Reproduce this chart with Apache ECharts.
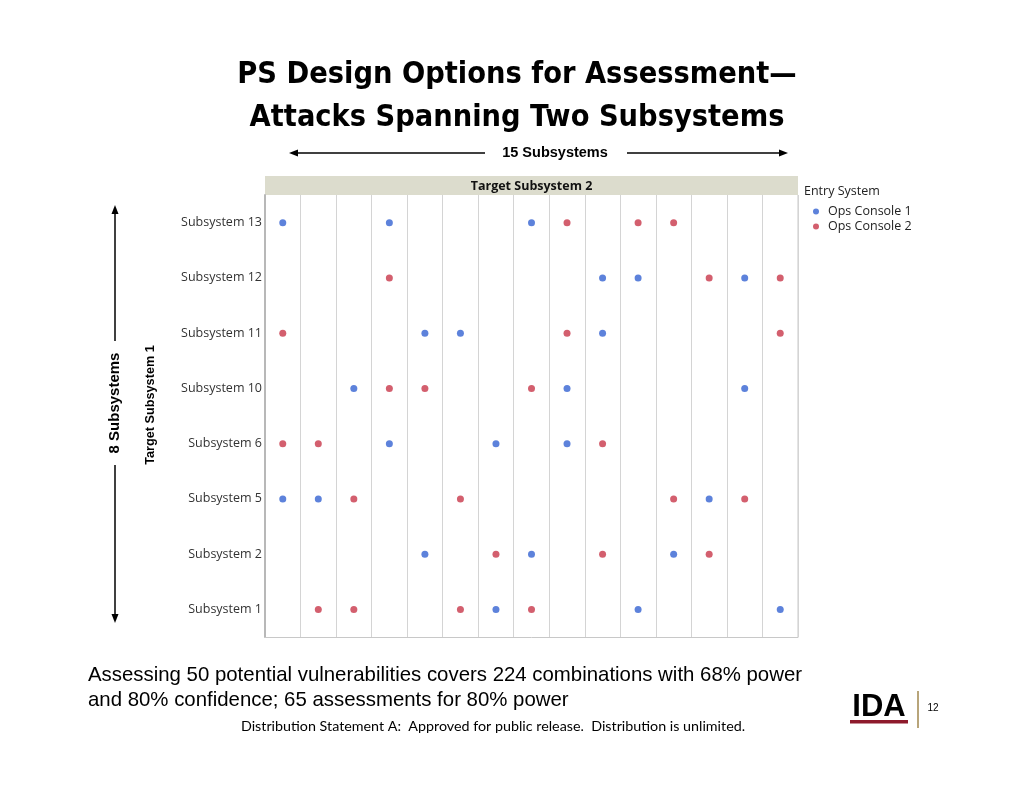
<!DOCTYPE html>
<html>
<head>
<meta charset="utf-8">
<script src="https://cdn.jsdelivr.net/npm/echarts@6/dist/echarts.min.js"></script>
<style>
html,body{margin:0;padding:0;background:#fff;}
#chart{width:1024px;height:791px;}
</style>
</head>
<body>
<div id="chart"></div>
<script>
// Columns: Target Subsystem 2 (15 subsystems, header labels illegible)
const columns = ['1','2','3','4','5','6','7','8','9','10','11','12','13','14','15'];
// Rows: Target Subsystem 1 (bottom to top)
const rows = ['Subsystem 1','Subsystem 2','Subsystem 5','Subsystem 6','Subsystem 10','Subsystem 11','Subsystem 12','Subsystem 13'];
const seriesNames = ['Ops Console 1','Ops Console 2'];
// [column, row]
const opsConsole1 = [
  ['1','Subsystem 13'],['4','Subsystem 13'],['8','Subsystem 13'],
  ['10','Subsystem 12'],['11','Subsystem 12'],['14','Subsystem 12'],
  ['5','Subsystem 11'],['6','Subsystem 11'],['10','Subsystem 11'],
  ['3','Subsystem 10'],['9','Subsystem 10'],['14','Subsystem 10'],
  ['4','Subsystem 6'],['7','Subsystem 6'],['9','Subsystem 6'],
  ['1','Subsystem 5'],['2','Subsystem 5'],['13','Subsystem 5'],
  ['5','Subsystem 2'],['8','Subsystem 2'],['12','Subsystem 2'],
  ['7','Subsystem 1'],['11','Subsystem 1'],['15','Subsystem 1']
];
const opsConsole2 = [
  ['9','Subsystem 13'],['11','Subsystem 13'],['12','Subsystem 13'],
  ['4','Subsystem 12'],['13','Subsystem 12'],['15','Subsystem 12'],
  ['1','Subsystem 11'],['9','Subsystem 11'],['15','Subsystem 11'],
  ['4','Subsystem 10'],['5','Subsystem 10'],['8','Subsystem 10'],
  ['1','Subsystem 6'],['2','Subsystem 6'],['10','Subsystem 6'],
  ['3','Subsystem 5'],['6','Subsystem 5'],['12','Subsystem 5'],['14','Subsystem 5'],
  ['7','Subsystem 2'],['10','Subsystem 2'],['13','Subsystem 2'],
  ['2','Subsystem 1'],['3','Subsystem 1'],['6','Subsystem 1'],['8','Subsystem 1']
];

const chart = echarts.init(document.getElementById('chart'), null, {renderer:'canvas'});
const BLUE = '#3563d2', RED = '#c8374a';
const GL = 265, GT = 195, GW = 533, GH = 442;
const arrowColor = '#000';
function arrowHead(x, y, dir){
  const s = 9, w = 3.5;
  let pts;
  if(dir==='l') pts=[[x,y],[x+s,y-w],[x+s,y+w]];
  if(dir==='r') pts=[[x,y],[x-s,y-w],[x-s,y+w]];
  if(dir==='u') pts=[[x,y],[x-w,y+s],[x+w,y+s]];
  if(dir==='d') pts=[[x,y],[x-w,y-s],[x+w,y-s]];
  return {type:'polygon', shape:{points:pts}, style:{fill:arrowColor}};
}

chart.setOption({
  animation:false,
  backgroundColor:'#fff',
  grid:{left:GL, top:GT, width:GW, height:GH, show:false},
  xAxis:{
    type:'category', data:columns, boundaryGap:true,
    axisLine:{show:true, onZero:false, lineStyle:{color:'#c8c8c8', width:1}},
    axisTick:{show:false}, axisLabel:{show:false},
    splitLine:{show:true, lineStyle:{color:'#d4d4d4', width:1}}
  },
  yAxis:{
    type:'category', data:rows, boundaryGap:true,
    axisLine:{show:true, lineStyle:{color:'#b8b8b8', width:2}},
    axisTick:{show:false},
    axisLabel:{color:'#333', fontFamily:'Open Sans', fontSize:12.5, margin:3},
    splitLine:{show:false}
  },
  legend:{
    data:seriesNames, orient:'vertical', left:808, top:200, itemGap:2,
    icon:'circle', itemWidth:6, itemHeight:6,
    textStyle:{color:'#222', fontFamily:'Open Sans', fontSize:12.5, padding:[0,0,0,4]}
  },
  series:[
    {name:seriesNames[0], type:'scatter', data:opsConsole1, symbolSize:7, itemStyle:{color:BLUE}},
    {name:seriesNames[1], type:'scatter', data:opsConsole2, symbolSize:7, itemStyle:{color:RED}}
  ],
  graphic:[
    {type:'rect', shape:{x:GL, y:176, width:GW, height:19}, style:{fill:'#dcdccd'}},
    {type:'text', x:GL+GW/2, y:186, style:{text:'Target Subsystem 2', align:'center', verticalAlign:'middle', font:'bold 12.5px "Open Sans"', fill:'#111'}},
    {type:'line', shape:{x1:GL+GW, y1:GT, x2:GL+GW, y2:GT+GH}, style:{stroke:'#c8c8c8', lineWidth:1}},
    {type:'text', x:804, y:191, style:{text:'Entry System', verticalAlign:'middle', font:'12.5px "Open Sans"', fill:'#222'}},
    {type:'text', x:517, y:75, style:{text:'PS Design Options for Assessment\u2014', align:'center', verticalAlign:'middle', font:'bold 30.4px "DejaVu Sans Condensed"', fill:'#000'}},
    {type:'text', x:517, y:118, style:{text:'Attacks Spanning Two Subsystems', align:'center', verticalAlign:'middle', font:'bold 30.4px "DejaVu Sans Condensed"', fill:'#000'}},
    {type:'text', x:555, y:153, style:{text:'15 Subsystems', align:'center', verticalAlign:'middle', font:'bold 14.5px "Liberation Sans"', fill:'#000'}},
    {type:'line', shape:{x1:292, y1:153, x2:485, y2:153}, style:{stroke:arrowColor, lineWidth:1.5}},
    arrowHead(289,153,'l'),
    {type:'line', shape:{x1:627, y1:153, x2:785, y2:153}, style:{stroke:arrowColor, lineWidth:1.5}},
    arrowHead(788,153,'r'),
    {type:'line', shape:{x1:115, y1:208, x2:115, y2:341}, style:{stroke:arrowColor, lineWidth:1.5}},
    arrowHead(115,205,'u'),
    {type:'line', shape:{x1:115, y1:465, x2:115, y2:620}, style:{stroke:arrowColor, lineWidth:1.5}},
    arrowHead(115,623,'d'),
    {type:'text', x:115, y:403, rotation:Math.PI/2, style:{text:'8 Subsystems', align:'center', verticalAlign:'middle', font:'bold 15px "Liberation Sans"', fill:'#000'}},
    {type:'text', x:150, y:405, rotation:Math.PI/2, style:{text:'Target Subsystem 1', align:'center', verticalAlign:'middle', font:'bold 12.7px "Liberation Sans"', fill:'#000'}},
    {type:'text', x:88, y:675, style:{text:'Assessing 50 potential vulnerabilities covers 224 combinations with 68% power', verticalAlign:'middle', font:'20.4px "Liberation Sans"', fill:'#000'}},
    {type:'text', x:88, y:700, style:{text:'and 80% confidence; 65 assessments for 80% power', verticalAlign:'middle', font:'20.4px "Liberation Sans"', fill:'#000'}},
    {type:'text', x:493, y:726, style:{text:'Distribution Statement A:  Approved for public release.  Distribution is unlimited.', align:'center', verticalAlign:'middle', font:'14.3px Lato', fill:'#000'}},
    {type:'text', x:879, y:707, style:{text:'IDA', align:'center', verticalAlign:'middle', font:'bold 31px "Liberation Sans"', fill:'#000'}},
    {type:'rect', shape:{x:850, y:720, width:58, height:3.5}, style:{fill:'#8e1a2c'}},
    {type:'line', shape:{x1:918, y1:691, x2:918, y2:728}, style:{stroke:'#b8a57a', lineWidth:2}},
    {type:'text', x:933, y:708, style:{text:'12', align:'center', verticalAlign:'middle', font:'10px "Liberation Sans"', fill:'#000'}}
  ]
});
</script>
</body>
</html>
